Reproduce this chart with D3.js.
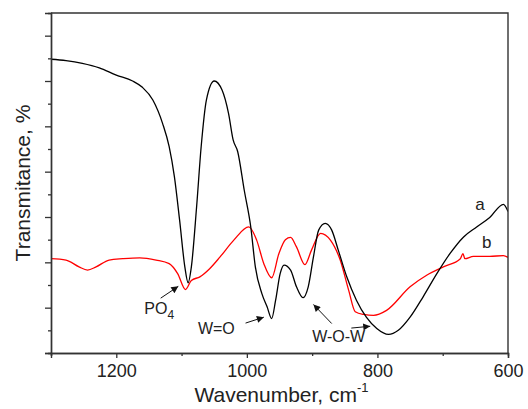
<!DOCTYPE html>
<html>
<head>
<meta charset="utf-8">
<script src="https://cdn.jsdelivr.net/npm/d3@7"></script>
<style>
  body { margin: 0; background: #fff; }
  svg { display: block; font-family: "Liberation Sans", Arial, sans-serif; }
</style>
</head>
<body>
<div id="chart"></div>
<script>
// Chart size
const width = 528,
      height = 409;
const margin = { top: 13, right: 20, bottom: 56, left: 51 };

// Curve a (black) - wavenumber, transmittance (arbitrary units)
const waveA = [1300, 1277, 1252, 1226, 1200, 1175, 1160, 1144, 1129, 1119, 1111, 1103, 1095, 1090, 1085, 1077, 1070, 1062, 1050, 1038, 1028, 1021, 1014, 1004, 994, 987, 977, 969, 962, 956, 949, 943, 933, 924, 914, 906, 898, 890, 880, 870, 860, 847, 832, 817, 801, 783, 768, 750, 730, 709, 689, 668, 648, 628, 607, 600];
const transA = [6.48, 6.45, 6.39, 6.29, 6.13, 6.0, 5.86, 5.58, 5.06, 4.55, 3.89, 2.93, 1.90, 1.55, 1.90, 3.22, 4.55, 5.58, 6.0, 5.80, 5.28, 4.70, 4.44, 3.59, 2.78, 1.90, 1.31, 1.02, 0.76, 1.16, 1.75, 1.94, 1.83, 1.46, 1.22, 1.46, 2.12, 2.71, 2.86, 2.71, 2.27, 1.68, 1.16, 0.79, 0.54, 0.41, 0.50, 0.79, 1.24, 1.75, 2.19, 2.56, 2.78, 2.99, 3.28, 3.12];

// Curve b (red)
const waveB = [1300, 1277, 1257, 1244, 1231, 1211, 1190, 1164, 1139, 1119, 1106, 1094, 1085, 1072, 1057, 1041, 1020, 997, 985, 974, 962, 951, 941, 933, 924, 911, 901, 887, 872, 857, 844, 834, 821, 806, 786, 750, 724, 699, 673, 669, 666, 653, 628, 607, 600];
const transB = [2.08, 2.05, 1.90, 1.83, 1.90, 2.05, 2.08, 2.10, 2.05, 1.97, 1.75, 1.40, 1.60, 1.68, 1.86, 2.12, 2.49, 2.78, 2.49, 1.97, 1.66, 2.19, 2.50, 2.55, 2.34, 1.95, 2.27, 2.64, 2.49, 2.05, 1.38, 0.91, 0.85, 0.83, 0.94, 1.46, 1.72, 1.90, 2.08, 2.19, 2.08, 2.13, 2.13, 2.15, 2.11];

// Tick values
const xMajor = [1200, 1000, 800, 600];
const xMinor = [1300, 1100, 900, 700];
const yMajor = [0, 1, 2, 3, 4, 5, 6, 7];
const yMinor = [0.5, 1.5, 2.5, 3.5, 4.5, 5.5, 6.5];

// Annotation labels and arrows (in data units)
const labels = [
    { text: "PO", sub: "4", w: 1157, v: 0.87 },
    { text: "W=O", w: 1075, v: 0.43 },
    { text: "W-O-W", w: 900, v: 0.24 },
    { text: "a", w: 650, v: 3.15 },
    { text: "b", w: 640, v: 2.31 }
];
const arrows = [
    { w1: 1132, v1: 1.21, w2: 1105, v2: 1.47 },
    { w1: 1002, v1: 0.66, w2: 974, v2: 0.79 },
    { w1: 870, v1: 0.65, w2: 898, v2: 1.07 },
    { w1: 840, v1: 0.55, w2: 811, v2: 0.59 }
];

const x = d3.scaleLinear().domain([1300, 600]).range([margin.left, width - margin.right]);
const y = d3.scaleLinear().domain([0, 7.5]).range([height - margin.bottom, margin.top]);

const svg = d3.select("#chart").append("svg")
    .attr("width", width)
    .attr("height", height);

svg.append("defs").append("clipPath").attr("id", "clip")
    .append("rect")
    .attr("x", margin.left).attr("y", margin.top)
    .attr("width", width - margin.left - margin.right)
    .attr("height", height - margin.top - margin.bottom);

svg.select("defs").append("marker")
    .attr("id", "arrow")
    .attr("viewBox", "0 0 10 10")
    .attr("refX", 10).attr("refY", 5)
    .attr("markerWidth", 9).attr("markerHeight", 7)
    .attr("markerUnits", "userSpaceOnUse")
    .attr("orient", "auto")
    .append("path")
    .attr("d", "M0,0 L10,5 L0,10 Z")
    .attr("fill", "#111");

const line = d3.line()
    .x(d => x(d[0]))
    .y(d => y(d[1]))
    .curve(d3.curveMonotoneX);

const seriesA = waveA.map((w, i) => [w, transA[i]]).sort((p, q) => q[0] - p[0]);
const seriesB = waveB.map((w, i) => [w, transB[i]]).sort((p, q) => q[0] - p[0]);

const plot = svg.append("g").attr("clip-path", "url(#clip)");
plot.append("path").datum(seriesB)
    .attr("fill", "none").attr("stroke", "#ff0000").attr("stroke-width", 1.3)
    .attr("d", line);
plot.append("path").datum(seriesA)
    .attr("fill", "none").attr("stroke", "#000").attr("stroke-width", 1.3)
    .attr("d", line);

// Axes
const axisColor = "#333";
function styleAxis(g) {
    g.selectAll(".domain").attr("stroke", axisColor).attr("stroke-width", 1.4);
    g.selectAll(".tick line").attr("stroke", axisColor).attr("stroke-width", 1.3);
    g.selectAll(".tick text").attr("fill", "#222").style("font-size", "18px")
        .style("font-family", "'Liberation Sans', Arial, sans-serif");
}

const bottom = height - margin.bottom;
svg.append("g").attr("transform", `translate(0,${bottom})`)
    .call(d3.axisBottom(x).tickValues(xMinor).tickSize(3).tickFormat(""))
    .call(styleAxis);
svg.append("g").attr("transform", `translate(0,${bottom})`)
    .call(d3.axisBottom(x).tickValues(xMajor).tickSize(5).tickPadding(6).tickFormat(d3.format("d")))
    .call(styleAxis);

svg.append("g").attr("transform", `translate(${margin.left},0)`)
    .call(d3.axisLeft(y).tickValues(yMinor).tickSize(3).tickFormat(""))
    .call(styleAxis);
svg.append("g").attr("transform", `translate(${margin.left},0)`)
    .call(d3.axisLeft(y).tickValues(yMajor).tickSize(6).tickFormat(""))
    .call(styleAxis);

// Top and right frame
svg.append("path")
    .attr("d", `M${margin.left},${margin.top}H${width - margin.right}V${bottom}`)
    .attr("fill", "none").attr("stroke", axisColor).attr("stroke-width", 1.4);

// Axis titles
const xTitle = svg.append("text")
    .attr("x", (margin.left + width - margin.right) / 2 + 2)
    .attr("y", 402)
    .attr("text-anchor", "middle")
    .attr("fill", "#222")
    .style("font-size", "21px");
xTitle.append("tspan").text("Wavenumber, cm");
xTitle.append("tspan").attr("dy", -10).style("font-size", "13px").text("-1");

svg.append("text")
    .attr("transform", `translate(30,${(margin.top + bottom) / 2}) rotate(-90)`)
    .attr("text-anchor", "middle")
    .attr("fill", "#222")
    .style("font-size", "21px")
    .text("Transmitance, %");

// Annotations
labels.forEach(d => {
    const t = svg.append("text")
        .attr("x", x(d.w)).attr("y", y(d.v))
        .attr("fill", "#222")
        .style("font-size", d.text.length === 1 ? "17px" : "16px");
    t.append("tspan").text(d.text);
    if (d.sub) t.append("tspan").attr("dy", 5).style("font-size", "12px").text(d.sub);
});

svg.append("g").selectAll("line")
    .data(arrows)
    .join("line")
    .attr("x1", d => x(d.w1)).attr("y1", d => y(d.v1))
    .attr("x2", d => x(d.w2)).attr("y2", d => y(d.v2))
    .attr("stroke", "#111").attr("stroke-width", 1)
    .attr("marker-end", "url(#arrow)");
</script>
</body>
</html>
